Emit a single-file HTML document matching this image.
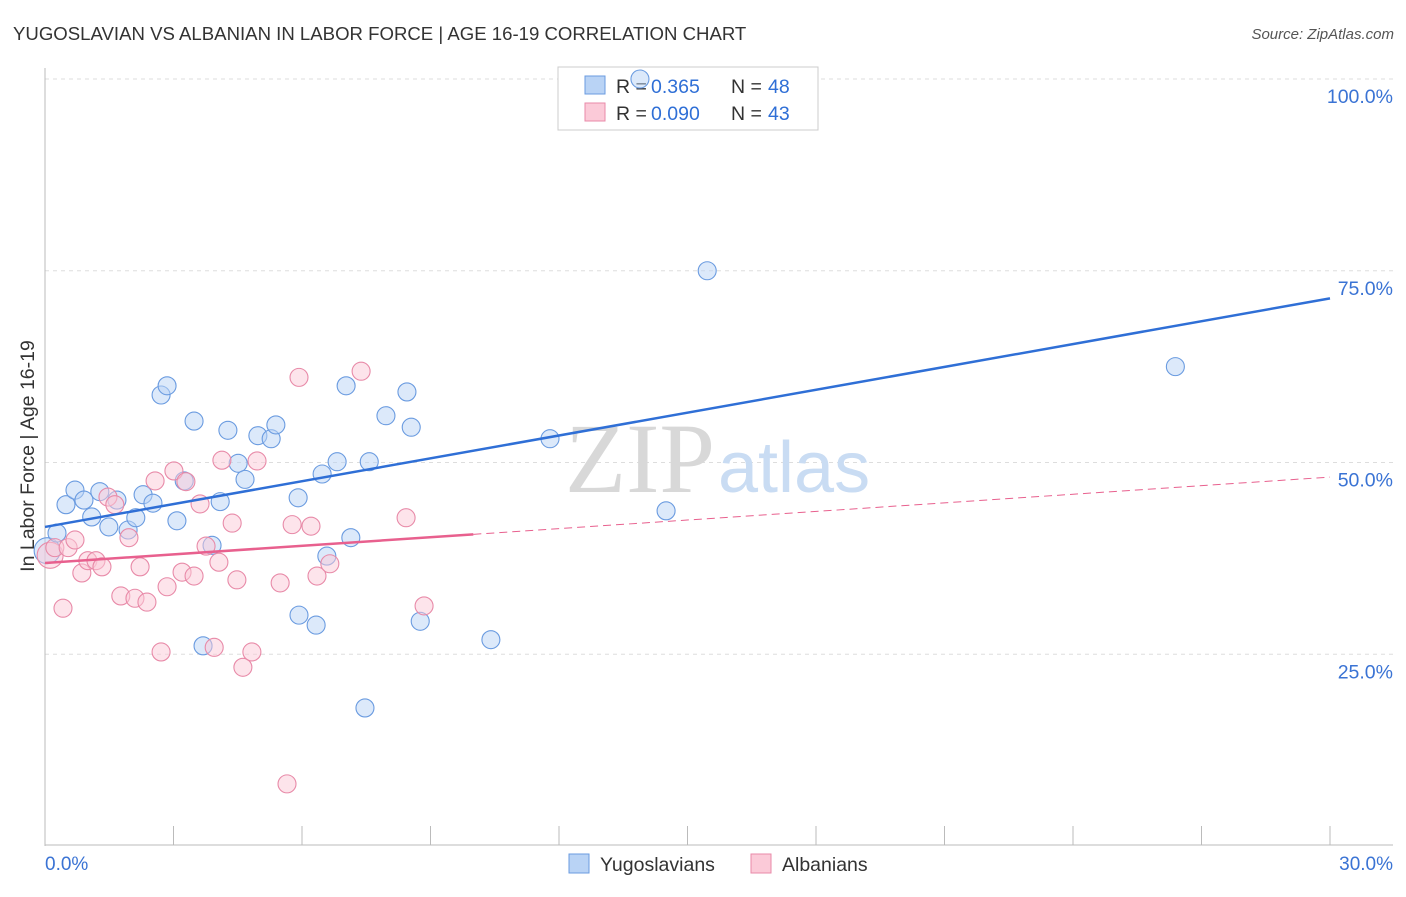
<!DOCTYPE html>
<html><head><meta charset="utf-8"><style>
body{margin:0;background:#fff;font-family:"Liberation Sans",sans-serif}
</style></head><body>
<svg width="1406" height="892" viewBox="0 0 1406 892" xmlns="http://www.w3.org/2000/svg">
<text x="13" y="40" font-size="18.6" fill="#333">YUGOSLAVIAN VS ALBANIAN IN LABOR FORCE | AGE 16-19 CORRELATION CHART</text>
<text x="1394" y="39" font-size="15" fill="#555" font-style="italic" text-anchor="end">Source: ZipAtlas.com</text>
<g id="grid"></g>
<g id="axes"></g>
<text x="715" y="492" font-size="100" fill="#d8d8d8" text-anchor="end" font-family="Liberation Serif,serif">ZIP</text>
<text x="718" y="492" font-size="72" fill="#c9dcf3">atlas</text>
<g>
<rect x="558" y="67" width="260" height="63" fill="#fff" stroke="#ccc"/>
<rect x="585" y="76" width="20" height="18" fill="#b9d3f5" stroke="#6a9be0"/>
<rect x="585" y="103" width="20" height="18" fill="#fbcad8" stroke="#e88aa8"/>
<text x="616" y="93" font-size="19.5" fill="#333">R =</text>
<text x="651" y="93" font-size="19.5" fill="#2f6fd6">0.365</text>
<text x="731" y="93" font-size="19.5" fill="#333">N =</text>
<text x="768" y="93" font-size="19.5" fill="#2f6fd6">48</text>
<text x="616" y="120" font-size="19.5" fill="#333">R =</text>
<text x="651" y="120" font-size="19.5" fill="#2f6fd6">0.090</text>
<text x="731" y="120" font-size="19.5" fill="#333">N =</text>
<text x="768" y="120" font-size="19.5" fill="#2f6fd6">43</text>
</g>
<g id="pts"></g>
<g id="trends"></g>
<g>
<rect x="569" y="854" width="20" height="19" fill="#b9d3f5" stroke="#6a9be0"/>
<text x="600" y="871" font-size="19.5" fill="#333">Yugoslavians</text>
<rect x="751" y="854" width="20" height="19" fill="#fbcad8" stroke="#e88aa8"/>
<text x="782" y="871" font-size="19.5" fill="#333">Albanians</text>
</g>
<text x="34" y="456" font-size="19.5" fill="#333" text-anchor="middle" transform="rotate(-90 34 456)">In Labor Force | Age 16-19</text>
</svg>
<script>
const yTicks=[25,50,75,100];
const yTickLabels=["25.0%","50.0%","75.0%","100.0%"];
const xTickLabels=["0.0%","30.0%"];
const blueX=[0.05,0.28,0.49,0.70,0.91,1.09,1.28,1.49,1.68,1.94,2.12,2.29,2.52,2.71,2.85,3.08,3.25,3.48,3.69,3.90,4.09,4.27,4.51,4.67,4.97,5.28,5.39,5.93,5.91,6.33,6.47,6.58,6.82,7.03,7.14,7.47,7.57,7.96,8.45,8.55,8.76,10.41,11.79,13.89,14.50,15.46,26.39];
const blueY=[38.5,40.8,44.5,46.4,45.1,42.9,46.2,41.6,45.1,41.2,42.8,45.8,44.7,58.8,60.0,42.4,47.6,55.4,26.1,39.2,44.9,54.2,49.9,47.8,53.5,53.1,54.9,30.1,45.4,28.8,48.5,37.8,50.1,60.0,40.2,18.0,50.1,56.1,59.2,54.6,29.3,26.9,53.1,100,43.7,75.0,62.5];
const pinkX=[0.12,0.23,0.42,0.54,0.70,0.86,1.00,1.19,1.33,1.47,1.63,1.77,1.96,2.10,2.22,2.38,2.57,2.71,2.85,3.01,3.20,3.29,3.48,3.62,3.76,3.95,4.06,4.37,4.48,4.13,4.62,4.83,4.95,5.49,5.65,5.77,5.93,6.21,6.35,6.65,7.38,8.43,8.85];
const pinkY=[37.9,38.9,31.0,38.9,39.9,35.6,37.2,37.2,36.4,45.5,44.5,32.6,40.2,32.3,36.4,31.8,47.6,25.3,33.8,48.9,35.7,47.5,35.2,44.6,39.1,25.9,37.0,42.1,34.7,50.3,23.3,25.3,50.2,34.3,8.1,41.9,61.1,41.7,35.2,36.8,61.9,42.8,31.3];
const blueTrend=[41.6,71.4];
const pinkTrend=[36.9,48.1];
const pinkSolidEnd=10.0;
const NS="http://www.w3.org/2000/svg";
const X=v=>45+v/30*1285, Y=v=>846-v*7.67;
function mk(t,a,p){const e=document.createElementNS(NS,t);for(const k in a)e.setAttribute(k,a[k]);p.appendChild(e);return e;}
const grid=document.getElementById('grid'),axes=document.getElementById('axes');
yTicks.forEach((t,i)=>{
 const l=mk('line',{x1:45,x2:1393,y1:Y(t),y2:Y(t),stroke:'#ddd','stroke-dasharray':'4,4'},grid);
 
 
 const tx=mk('text',{x:1393,y:Y(t)+24,'font-size':19.5,fill:'#3a73d4','text-anchor':'end'},axes);
 tx.textContent=yTickLabels[i];
 
 
});
mk('line',{x1:45,x2:45,y1:68,y2:846,stroke:'#bbb'},axes);
mk('line',{x1:45,x2:1393,y1:845,y2:845,stroke:'#bbb'},axes);
for(let i=0;i<=10;i++){const l=mk('line',{x1:X(i*3),x2:X(i*3),y1:826,y2:845,stroke:'#bbb'},axes);
 
 }
const x0=mk('text',{x:45,y:870,'font-size':19,fill:'#3a73d4'},axes);x0.textContent=xTickLabels[0];


const x1=mk('text',{x:1393,y:870,'font-size':19,fill:'#3a73d4','text-anchor':'end'},axes);x1.textContent=xTickLabels[1];


const pts=document.getElementById('pts');
function dots(xs,ys,fill,stroke,name){xs.forEach((v,i)=>{const c=mk('circle',{cx:X(v),cy:Y(ys[i]),r:i==0?13:9,fill:fill,'fill-opacity':0.5,stroke:stroke,'stroke-width':1.1},pts);
 
 });}
dots(blueX,blueY,'#b9d3f5','#6a9be0','yugoslavian-point');
dots(pinkX,pinkY,'#fbcad8','#e88aa8','albanian-point');
const tr=document.getElementById('trends');
const b=mk('line',{x1:X(0),y1:Y(blueTrend[0]),x2:X(30),y2:Y(blueTrend[1]),stroke:'#2f6fd6','stroke-width':2.5},tr);


const pe=pinkTrend[0]+(pinkTrend[1]-pinkTrend[0])*pinkSolidEnd/30;
const p1=mk('line',{x1:X(0),y1:Y(pinkTrend[0]),x2:X(pinkSolidEnd),y2:Y(pe),stroke:'#e8608e','stroke-width':2.5},tr);


const p2=mk('line',{x1:X(pinkSolidEnd),y1:Y(pe),x2:X(30),y2:Y(pinkTrend[1]),stroke:'#e8608e','stroke-width':1,'stroke-dasharray':'8,5'},tr);


</script>
</body></html>
